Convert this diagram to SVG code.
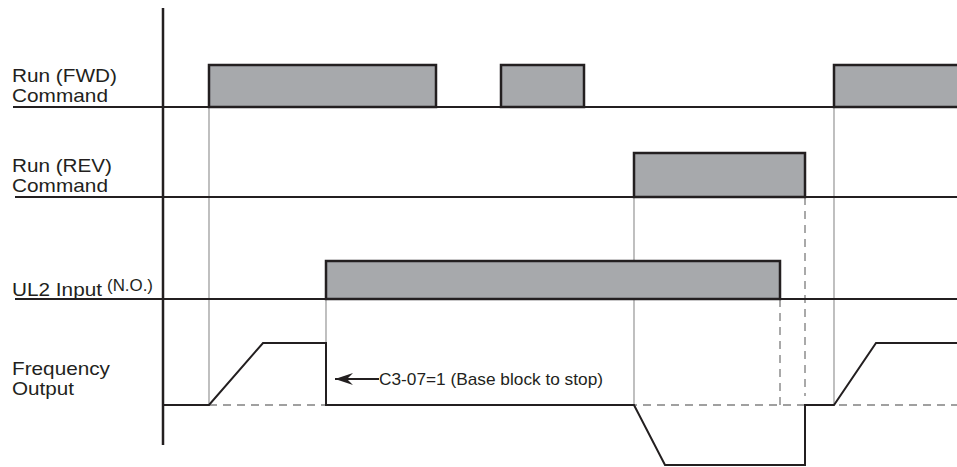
<svg xmlns="http://www.w3.org/2000/svg" width="957" height="467" viewBox="0 0 957 467">
<style>
.lbl{font-family:"Liberation Sans",Arial,sans-serif;font-size:19px;fill:#231f20}
.sup{font-family:"Liberation Sans",Arial,sans-serif;font-size:16px;fill:#231f20}
.note{font-family:"Liberation Sans",Arial,sans-serif;font-size:17px;fill:#231f20}
.base{stroke:#231f20;stroke-width:2;fill:none}
.pulse{fill:#a7a9ac;stroke:#231f20;stroke-width:2.5;stroke-linejoin:miter}
.guide{stroke:#b0b0b0;stroke-width:1.6;fill:none}
.dash{stroke:#a0a0a0;stroke-width:1.8;fill:none;stroke-dasharray:8 6}
.wave{stroke:#231f20;stroke-width:2;fill:none;stroke-linejoin:miter}
</style>
<defs>
<marker id="ah" markerWidth="20" markerHeight="14" refX="19" refY="7" orient="auto" markerUnits="userSpaceOnUse">
<path d="M19,7 L1,1 L7,7 L1,13 Z" fill="#231f20"/>
</marker>
</defs>
<rect width="957" height="467" fill="#fff"/>
<g id="guides">
<line class="dash" x1="209" y1="405" x2="957" y2="405"/>
<line class="dash" x1="780" y1="299" x2="780" y2="405"/>
<line class="dash" x1="805" y1="197" x2="805" y2="396"/>
<line class="guide" x1="209" y1="107" x2="209" y2="405"/>
<line class="guide" x1="326" y1="299" x2="326" y2="343"/>
<line class="guide" x1="634" y1="197" x2="634" y2="405"/>
<line class="guide" x1="834" y1="107" x2="834" y2="405"/>
</g>
<g id="fwd">
<rect class="pulse" x="209" y="65" width="227" height="42"/>
<rect class="pulse" x="501" y="65" width="83" height="42"/>
<rect class="pulse" x="834" y="65" width="126" height="42"/>
<line class="base" x1="13" y1="107" x2="957" y2="107"/>
<text class="lbl" x="12" y="82" textLength="105" lengthAdjust="spacingAndGlyphs">Run (FWD)</text>
<text class="lbl" x="12" y="102" textLength="96" lengthAdjust="spacingAndGlyphs">Command</text>
</g>
<g id="rev">
<rect class="pulse" x="634" y="153" width="171" height="44"/>
<line class="base" x1="15" y1="197" x2="957" y2="197"/>
<text class="lbl" x="12" y="172" textLength="100" lengthAdjust="spacingAndGlyphs">Run (REV)</text>
<text class="lbl" x="12" y="192" textLength="96" lengthAdjust="spacingAndGlyphs">Command</text>
</g>
<g id="ul2">
<rect class="pulse" x="326" y="261" width="454" height="38"/>
<line class="base" x1="15" y1="299" x2="957" y2="299"/>
<text class="lbl" x="12" y="296" textLength="90" lengthAdjust="spacingAndGlyphs">UL2 Input</text>
<text class="sup" x="107" y="291" textLength="46" lengthAdjust="spacingAndGlyphs">(N.O.)</text>
</g>
<g id="freq">
<polyline class="wave" points="163,405 209,405 263,343 326,343 326,405 634,405 665,465 805,465 805,405 834,405 876,343 957,343"/>
<text class="lbl" x="12" y="375" textLength="98" lengthAdjust="spacingAndGlyphs">Frequency</text>
<text class="lbl" x="12" y="395" textLength="62" lengthAdjust="spacingAndGlyphs">Output</text>
</g>
<g id="axis">
<line x1="163" y1="8" x2="163" y2="445" stroke="#231f20" stroke-width="2.5"/>
</g>
<g id="connectors">
<line x1="379" y1="379" x2="335" y2="379" stroke="#231f20" stroke-width="2" marker-end="url(#ah)"/>
</g>
<g id="note">
<text class="note" x="379" y="385" textLength="224" lengthAdjust="spacingAndGlyphs">C3-07=1 (Base block to stop)</text>
</g>
</svg>
